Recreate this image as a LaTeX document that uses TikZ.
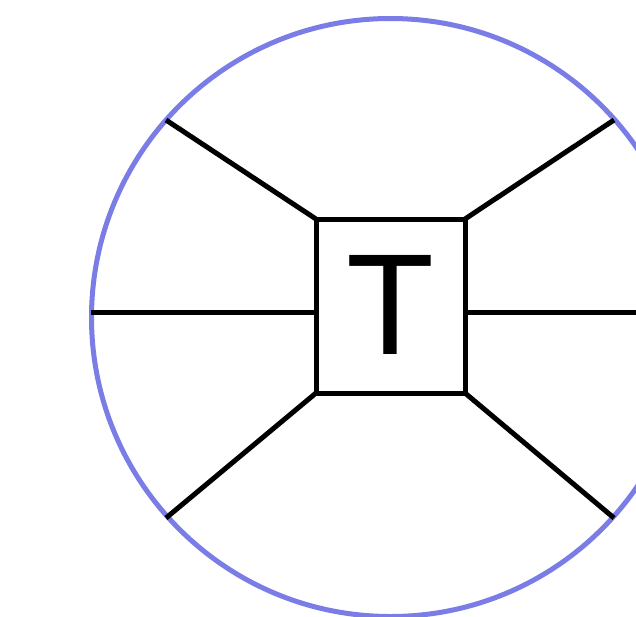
\documentclass[tikz,border=0pt]{standalone}
\usepackage{fontspec}
\setmainfont{Liberation Sans}
\definecolor{ringblue}{RGB}{122,125,230}
\begin{document}
\begin{tikzpicture}[x=1pt, y=-1pt, line width=5pt,
  tbox/.style={draw, minimum width=149pt, minimum height=174pt, inner sep=0pt, outer sep=0pt},
  leg/.style={draw=black}]
  \useasboundingbox (0,0) rectangle (636,616);
  \clip (0,0) rectangle (636,616);
  % ring, cut off on the right and at the bottom
  \draw[ringblue] (390.5,317.5) circle (299);
  \node[tbox] (box) at (390.5,306) {};
  \node[font=\fontsize{144}{144}\selectfont, inner sep=0pt] (lbl) at (390.5,304.5) {T};
  % points where the legs meet the ring
  \coordinate (nw) at (166,120); \coordinate (ne) at (614,120);
  \coordinate (sw) at (166,518); \coordinate (se) at (614,518);
  \coordinate (w) at (91,312);   \coordinate (e) at (689,312);
  \draw[leg] (box.north west) -- (nw); \draw[leg] (box.north east) -- (ne);
  \draw[leg] (box.south west) -- (sw); \draw[leg] (box.south east) -- (se);
  \draw[leg] ([yshift=-6pt]box.west) -- (w); \draw[leg] ([yshift=-6pt]box.east) -- (e);
\end{tikzpicture}
\end{document}
